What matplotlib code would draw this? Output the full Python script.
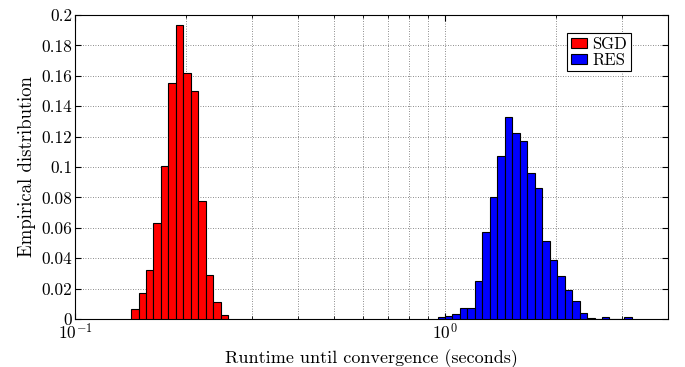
import numpy as np
import matplotlib
matplotlib.use("Agg")
from matplotlib import pyplot as plt
from matplotlib.ticker import LogLocator, FixedLocator, FuncFormatter

# histogram heights (fraction of runs per bin)
sgd_heights = [0.0063, 0.0172, 0.0322, 0.0631, 0.101, 0.155, 0.1937,
               0.162, 0.150, 0.0779, 0.0292, 0.0113, 0.0024]
res_heights = [0.001, 0.0022, 0.003, 0.007, 0.007, 0.025, 0.057, 0.080,
               0.107, 0.1332, 0.1223, 0.117, 0.096, 0.086, 0.0512, 0.039,
               0.028, 0.019, 0.0118, 0.0042, 0.0009, 0.0, 0.001, 0.0, 0.0,
               0.001]

# bins are equal width in log10(seconds), shared grid for both methods
log_bin_width = 0.0202
sgd_first_bin = -0.8486   # log10 of left edge of first SGD bin
res_first_bin = sgd_first_bin + 41 * log_bin_width

plt.rcParams["font.family"] = "serif"
plt.rcParams["font.serif"] = ["cmr10", "DejaVu Serif"]
plt.rcParams["mathtext.fontset"] = "cm"
plt.rcParams["axes.formatter.use_mathtext"] = True


def draw_hist(ax, first, heights, color, label):
    edges = 10 ** (first + log_bin_width * np.arange(len(heights) + 1))
    ax.bar(edges[:-1], heights, width=np.diff(edges), align="edge",
           color=color, edgecolor="black", linewidth=0.8, label=label,
           zorder=3)


fig = plt.figure(figsize=(6.85, 3.67), dpi=100)
ax = fig.add_axes([0.1095, 0.1308, 0.8655, 0.8282])

draw_hist(ax, sgd_first_bin, sgd_heights, "#ff0000", "SGD")
draw_hist(ax, res_first_bin, res_heights, "#0000ff", "RES")

ax.set_xscale("log")
ax.set_xlim(0.1, 4.0)
ax.set_ylim(0, 0.2)

ax.xaxis.set_major_locator(FixedLocator([0.1, 1.0]))
ax.xaxis.set_minor_locator(LogLocator(base=10, subs=np.arange(2, 10)))
ax.xaxis.set_minor_formatter(FuncFormatter(lambda v, p: ""))
ax.set_yticks(np.arange(0, 0.2001, 0.02))
ax.yaxis.set_major_formatter(FuncFormatter(lambda v, p: "%g" % round(v, 2)))

ax.grid(True, which="both", axis="x", linestyle=(0, (1, 2)),
        color="#666666", linewidth=0.6, zorder=0)
ax.grid(True, which="major", axis="y", linestyle=(0, (1, 2)),
        color="#666666", linewidth=0.6, zorder=0)
ax.set_axisbelow(True)

ax.tick_params(which="both", direction="in", top=True, right=True,
               labelsize=12.5, pad=2)
ax.tick_params(which="major", length=4)
ax.tick_params(which="minor", length=2)
for s in ax.spines.values():
    s.set_linewidth(0.8)

ax.set_xlabel("Runtime until convergence (seconds)", fontsize=13, labelpad=5)
ax.set_ylabel("Empirical distribution", fontsize=13.5, labelpad=4)

leg = ax.legend(loc="upper right", bbox_to_anchor=(0.937, 0.94),
                fancybox=False, framealpha=1, edgecolor="black",
                fontsize=12, handlelength=1.0, handleheight=0.6,
                handletextpad=0.3, borderpad=0.2, labelspacing=0.05,
                borderaxespad=0)
leg.get_frame().set_linewidth(0.8)

fig.savefig("out.png", dpi=100)
